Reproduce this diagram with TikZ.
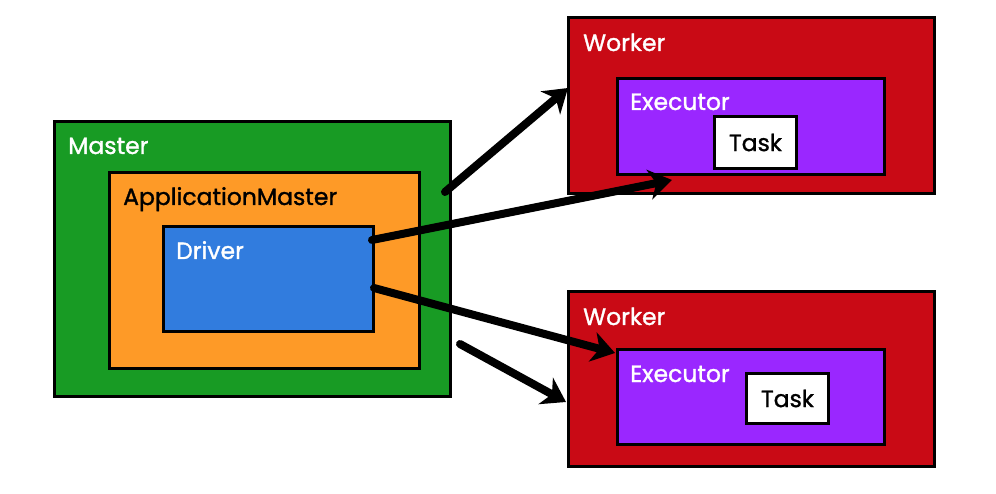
\documentclass[tikz,border=0pt]{standalone}
\usepackage{fontspec}
\setmainfont{Poppins}[FakeBold=1.2]
\usetikzlibrary{arrows.meta,calc}
\definecolor{cgreen}{HTML}{189B24}
\definecolor{corange}{HTML}{FE9A27}
\definecolor{cblue}{HTML}{317CDE}
\definecolor{cred}{HTML}{C90A15}
\definecolor{cpurple}{HTML}{9A27FF}
\tikzset{
  box/.style={draw=black, line width=3pt, rectangle, inner sep=0pt, anchor=north west},
  lbl/.style={anchor=base west, inner sep=0pt, font=\fontsize{23.5}{24}\selectfont},
  conn/.style={line width=8pt, line cap=round, -{Stealth[length=23pt,width=30pt,inset=7pt]}},
}
\begin{document}
\begin{tikzpicture}[x=1pt,y=-1pt]
\useasboundingbox (0,0) rectangle (996,494);
% Master
\node[box, fill=cgreen, minimum width=396pt, minimum height=275pt] (master) at (53,120) {};
\node[lbl, text=white] (masterl) at (68,154) {Master};
\node[box, fill=corange, minimum width=310pt, minimum height=196pt] (am) at (108,171) {};
\node[lbl, text=black] (aml) at (123,205) {ApplicationMaster};
\node[box, fill=cblue, minimum width=210pt, minimum height=105pt] (driver) at (162,225) {};
\node[lbl, text=white] (driverl) at (176,259) {Driver};
% Worker 1
\node[box, fill=cred, minimum width=366pt, minimum height=176pt] (w1) at (567,16) {};
\node[lbl, text=white] (w1l) at (583,51) {Worker};
\node[box, fill=cpurple, minimum width=267pt, minimum height=96pt] (e1) at (616,77) {};
\node[lbl, text=white] (e1l) at (630,110) {Executor};
\node[box, fill=white, minimum width=82pt, minimum height=52pt, font=\fontsize{23.5}{24}\selectfont] (t1) at (713,115) {Task};
% Worker 2
\node[box, fill=cred, minimum width=366pt, minimum height=175pt] (w2) at (567,290) {};
\node[lbl, text=white] (w2l) at (583,325) {Worker};
\node[box, fill=cpurple, minimum width=267pt, minimum height=95pt] (e2) at (616,348) {};
\node[lbl, text=white] (e2l) at (630,382) {Executor};
\node[box, fill=white, minimum width=82pt, minimum height=50pt, font=\fontsize{23.5}{24}\selectfont] (t2) at (745,372) {Task};
% connector endpoints
\coordinate (s1) at (445,192);
\coordinate (s4) at (460,344);
\coordinate (d2) at (372,240);
\coordinate (d3) at (374,288);
\coordinate (h1) at (568,88);
\coordinate (h2) at (672,180);
\coordinate (h3) at (615,353);
\coordinate (h4) at (566,402);
\draw[conn] (s1) -- (h1);
\draw[conn] (d2) -- (h2);
\draw[conn] (d3) -- (h3);
\draw[conn] (s4) -- (h4);
\end{tikzpicture}
\end{document}
